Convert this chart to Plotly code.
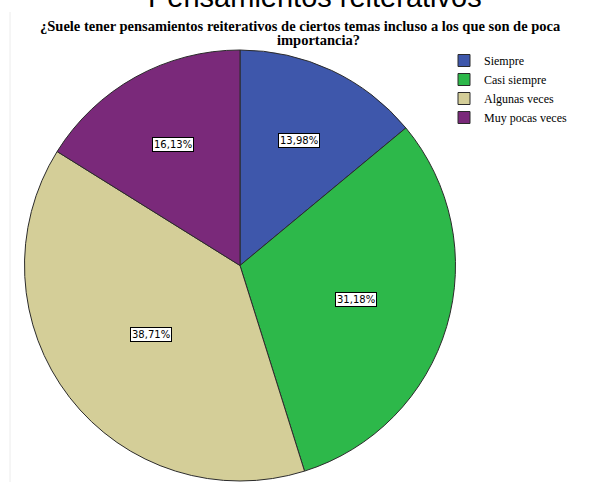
import numpy as np
import plotly.graph_objects as go

# data
categories = ['Siempre', 'Casi siempre', 'Algunas veces', 'Muy pocas veces']
percentages = [13.98, 31.18, 38.71, 16.13]
slice_colors = ['#3E57AB', '#2DB84A', '#D4CE98', '#7A297A']

W, H = 607, 482


def fx(sx):
    return sx / W


def fy(sy):
    return 1 - sy / H


# pie box in screen pixels (left, right, top, bottom)
px_l, px_r, px_t, px_b = 24, 456, 50, 481

fig = go.Figure()
fig.add_trace(go.Pie(
    labels=categories,
    values=percentages,
    sort=False,
    direction='clockwise',
    rotation=0,
    marker=dict(colors=slice_colors, line=dict(color='#2b2b2b', width=1)),
    textinfo='none',
    hoverinfo='label+percent',
    domain=dict(x=[fx(px_l), fx(px_r)], y=[fy(px_b), fy(px_t)]),
))

# percentage labels in boxes, placed on each slice's mid angle
cx = (px_l + px_r) / 2
cy = (px_t + px_b) / 2
R = min(px_r - px_l, px_b - px_t) / 2
label_r = [0.64, 0.56, 0.52, 0.64]
cum = np.cumsum([0] + percentages[:-1])
for i, p in enumerate(percentages):
    mid = (cum[i] + p / 2) / sum(percentages) * 2 * np.pi
    x = cx + label_r[i] * R * np.sin(mid)
    y = cy - label_r[i] * R * np.cos(mid)
    fig.add_annotation(
        x=fx(x), y=fy(y), xref='paper', yref='paper',
        xanchor='center', yanchor='middle',
        text=f'{p:.2f}%'.replace('.', ','),
        showarrow=False,
        font=dict(family='DejaVu Sans', size=10, color='black'),
        bgcolor='white', bordercolor='black', borderwidth=1, borderpad=1,
    )

# main title (cut off at the top, as in the reference)
fig.add_annotation(
    x=fx(315), y=fy(15), xref='paper', yref='paper',
    xanchor='center', yanchor='bottom',
    text='Pensamientos reiterativos', showarrow=False,
    font=dict(family='Liberation Sans', size=29, color='black'),
)
# question subtitle (two lines, tight spacing)
fig.add_annotation(
    x=fx(300), y=fy(26), xref='paper', yref='paper',
    xanchor='center', yanchor='middle',
    text='<b>¿Suele tener pensamientos reiterativos de ciertos temas incluso a los que son de poca</b>',
    showarrow=False,
    font=dict(family='Liberation Serif', size=14.5, color='black'),
)
fig.add_annotation(
    x=fx(318), y=fy(40), xref='paper', yref='paper',
    xanchor='center', yanchor='middle',
    text='<b>importancia?</b>',
    showarrow=False,
    font=dict(family='Liberation Serif', size=14.5, color='black'),
)

# faint frame line on the left
fig.add_shape(type='line', xref='paper', yref='paper',
              x0=fx(10), x1=fx(10), y0=0, y1=fy(12),
              line=dict(color='#ececec', width=1))

fig.update_layout(
    width=W, height=H,
    margin=dict(l=0, r=0, t=0, b=0),
    paper_bgcolor='white',
    plot_bgcolor='white',
    showlegend=True,
    legend=dict(
        x=fx(444), y=fy(46), xanchor='left', yanchor='top',
        font=dict(family='Liberation Serif', size=12, color='black'),
        bgcolor='rgba(0,0,0,0)',
        itemwidth=30,
        tracegroupgap=0,
    ),
)

# drop the default body margin so the figure sits at the page corner
fig.write_html("out.html", config={'displayModeBar': False},
               post_script="document.body.style.margin='0';")
